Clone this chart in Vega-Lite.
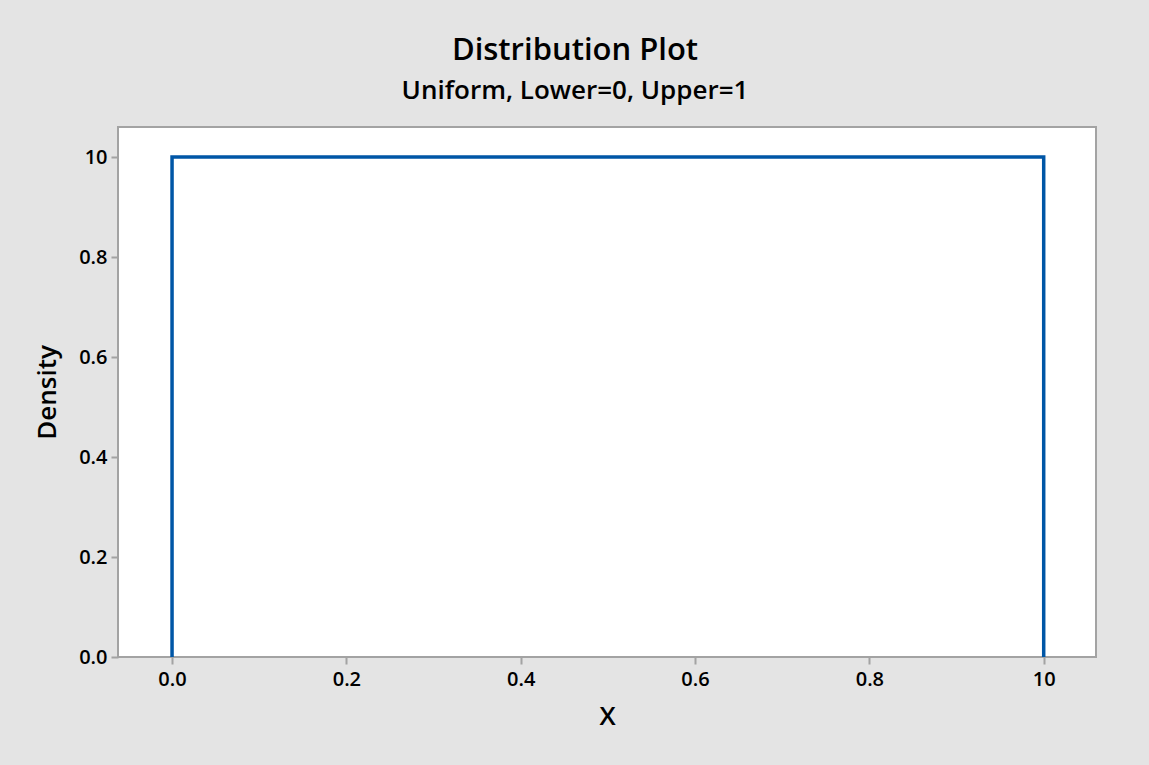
{
  "$schema": "https://vega.github.io/schema/vega-lite/v6.json",
  "autosize": "none",
  "width": 978,
  "height": 530,
  "padding": {"left": 118, "top": 127, "right": 53, "bottom": 108},
  "background": "#e4e4e4",
  "title": {
    "text": "Distribution Plot",
    "subtitle": "Uniform, Lower=0, Upper=1",
    "anchor": "middle",
    "frame": "group",
    "dx": -32,
    "offset": 22,
    "font": "Open Sans",
    "fontSize": 31,
    "fontWeight": 600,
    "color": "#000000",
    "subtitleFont": "Open Sans",
    "subtitleFontSize": 26,
    "subtitleFontWeight": 600,
    "subtitleColor": "#000000",
    "subtitlePadding": 11
  },
  "config": {
    "view": {"fill": "#ffffff", "stroke": "#a3a3a3", "strokeWidth": 2},
    "axis": {
      "grid": false,
      "domain": false,
      "tickColor": "#a3a3a3",
      "tickWidth": 2,
      "tickSize": 7,
      "labelFont": "Open Sans",
      "labelFontSize": 20,
      "labelFontWeight": 600,
      "labelColor": "#000000",
      "titleFont": "Open Sans",
      "titleFontSize": 26,
      "titleFontWeight": 600,
      "titleColor": "#000000"
    }
  },
  "data": {
    "values": [
      {"x": 0, "density": 0, "order": 1},
      {"x": 0, "density": 1, "order": 2},
      {"x": 1, "density": 1, "order": 3},
      {"x": 1, "density": 0, "order": 4}
    ]
  },
  "mark": {"type": "line", "color": "#0056a6", "strokeWidth": 3.5, "strokeCap": "butt", "strokeJoin": "miter"},
  "encoding": {
    "x": {
      "field": "x",
      "type": "quantitative",
      "scale": {"domain": [-0.062, 1.06], "nice": false, "zero": false},
      "axis": {
        "title": "X",
        "values": [0, 0.2, 0.4, 0.6, 0.8, 1.0],
        "labelExpr": "datum.value == 1 ? '10' : format(datum.value, '.1f')",
        "labelPadding": 5,
        "titlePadding": 14
      }
    },
    "y": {
      "field": "density",
      "type": "quantitative",
      "scale": {"domain": [0, 1.06], "nice": false},
      "axis": {
        "title": "Density",
        "values": [0, 0.2, 0.4, 0.6, 0.8, 1.0],
        "labelExpr": "datum.value == 1 ? '10' : format(datum.value, '.1f')",
        "labelPadding": 4,
        "titlePadding": 18
      }
    },
    "order": {"field": "order", "type": "quantitative"}
  }
}
